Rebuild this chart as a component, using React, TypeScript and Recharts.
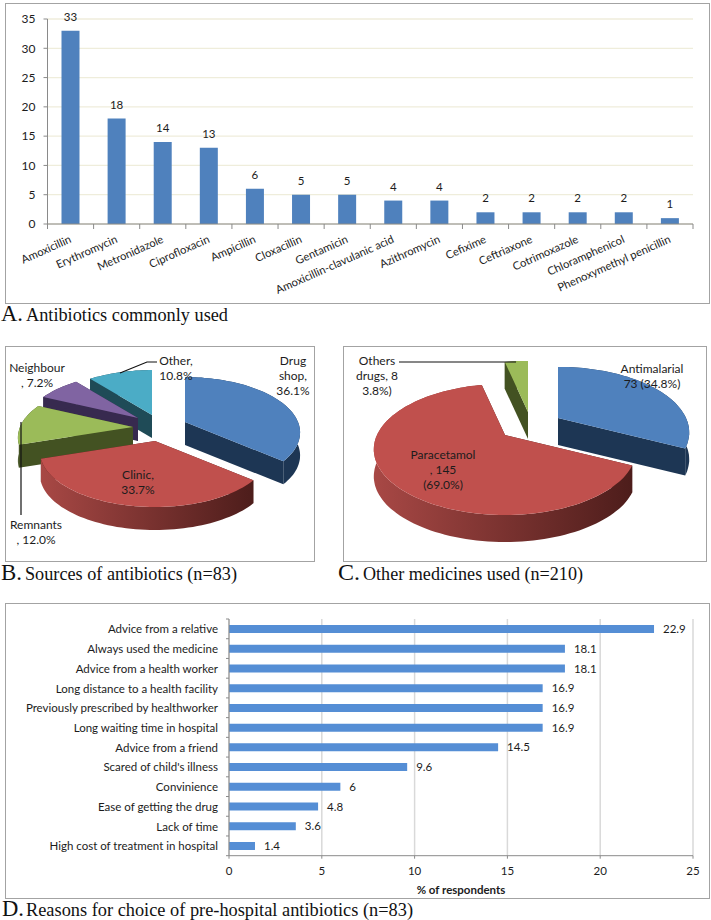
import React from 'react';
import { BarChart, Bar, XAxis, YAxis, CartesianGrid, LabelList, PieChart, Pie } from 'recharts';

// A. antibiotics
const drugNames = ['Amoxicillin', 'Erythromycin', 'Metronidazole', 'Ciprofloxacin', 'Ampicillin', 'Cloxacillin', 'Gentamicin', 'Amoxicillin-clavulanic acid', 'Azithromycin', 'Cefixime', 'Ceftriaxone', 'Cotrimoxazole', 'Chloramphenicol', 'Phenoxymethyl penicillin'];
const drugCounts = [33, 18, 14, 13, 6, 5, 5, 4, 4, 2, 2, 2, 2, 1];
const drugTicks = [0, 5, 10, 15, 20, 25, 30, 35];

// B. sources (listed anticlockwise from 12 o'clock, back slices first)
const sourceNames = ['Other', 'Neighbour', 'Remnants', 'Clinic', 'Drug shop'];
const sourceValues = [10.8, 7.2, 12.0, 33.7, 36.1];

// C. other medicines
const medicineNames = ['Others drugs', 'Paracetamol', 'Antimalarial'];
const medicineValues = [8, 145, 73];

// D. reasons
const reasonNames = ['Advice from a relative', 'Always used the medicine', 'Advice from a health worker', 'Long distance to a health facility', 'Previously prescribed by healthworker', 'Long waiting time in hospital', 'Advice from a friend', "Scared of child's illness", 'Convinience', 'Ease of getting the drug', 'Lack of time', 'High cost of treatment in hospital'];
const reasonPercents = [22.9, 18.1, 18.1, 16.9, 16.9, 16.9, 14.5, 9.6, 6, 4.8, 3.6, 1.4];
const reasonTicks = [0, 5, 10, 15, 20, 25];

const drugData = drugNames.map((name, i) => ({ name, count: drugCounts[i] }));
const sourceData = sourceNames.map((name, i) => ({ name, value: sourceValues[i] }));
const medicineData = medicineNames.map((name, i) => ({ name, value: medicineValues[i] }));
const reasonData = reasonNames.map((name, i) => ({ name, percent: reasonPercents[i] }));

const FONT = 'Lato, sans-serif';
const TEXT = '#1c1c1c';
const AXIS = '#8a8a8a';
const NO_MARGIN = { top: 0, right: 0, bottom: 0, left: 0 };

const sliceColors: Record<string, { top: string; wall: string; wallDark?: string }> = {
  Other: { top: '#4bacc6', wall: '#1f4b57' },
  Neighbour: { top: '#8064a2', wall: '#372a4f' },
  Remnants: { top: '#9bbb59', wall: '#435222' },
  Clinic: { top: '#c0504d', wall: '#a84845', wallDark: '#4d1d1b' },
  'Drug shop': { top: '#4f81bd', wall: '#1d3654' },
  'Others drugs': { top: '#9bbb59', wall: '#435222' },
  Paracetamol: { top: '#c0504d', wall: '#a84845', wallDark: '#4d1d1b' },
  Antimalarial: { top: '#4f81bd', wall: '#1d3654' },
};

// exploded slice offsets, px
const sliceShift: Record<string, [number, number]> = {
  Other: [2, -10],
  Neighbour: [-12, -7],
  Remnants: [-17, 2],
  Clinic: [5, 16],
  'Drug shop': [35, -3],
  'Others drugs': [-2, -8],
  Paracetamol: [-25, 15],
  Antimalarial: [28, -2],
};

// tilted pie: squash = vertical radius ratio, lean = perspective, depth = wall height
const makeSlice = (squash: number, lean: number, depth: number) => (props: any) => {
  const { cx, cy, outerRadius, startAngle, endAngle, name } = props;
  const c = sliceColors[name];
  const [ox, oy] = sliceShift[name];
  const project = (deg: number) => {
    const a = (deg * Math.PI) / 180;
    const X = Math.cos(a);
    const Y = -Math.sin(a);
    const s = 1 / (1 - lean * Y);
    return [cx + ox + outerRadius * X * s, cy + oy + outerRadius * squash * Y * s];
  };
  const arc: number[][] = [];
  const steps = Math.ceil(Math.abs(endAngle - startAngle) / 2);
  for (let i = 0; i <= steps; i++) arc.push(project(startAngle + ((endAngle - startAngle) * i) / steps));
  const apex = [cx + ox, cy + oy];
  const poly = (pts: number[][]) => pts.map((p) => `${p[0].toFixed(1)},${p[1].toFixed(1)}`).join(' ');
  const down = (p: number[]) => [p[0], p[1] + depth];
  const first = arc[0];
  const last = arc[arc.length - 1];
  const gradId = `wall-${name.replace(/\s/g, '')}`;
  return (
    <g>
      {c.wallDark && (
        <defs>
          <linearGradient id={gradId} x1="0" y1="0" x2="1" y2="0">
            <stop offset="0" stopColor={c.wall} />
            <stop offset="1" stopColor={c.wallDark} />
          </linearGradient>
        </defs>
      )}
      <polygon points={poly([apex, first, down(first), down(apex)])} fill={c.wallDark || c.wall} />
      <polygon points={poly([apex, last, down(last), down(apex)])} fill={c.wallDark || c.wall} />
      <polygon points={poly([...arc, ...arc.slice().reverse().map(down)])} fill={c.wallDark ? `url(#${gradId})` : c.wall} />
      <polygon points={poly([apex, ...arc])} fill={c.top} />
    </g>
  );
};

type Note = { lines: string[]; x: number; y: number; leader?: string };

const sourceNotes: Record<string, Note> = {
  Other: { lines: ['Other,', '10.8%'], x: 170, y: 14, leader: '151,16 141,16 114,27' },
  Neighbour: { lines: ['Neighbour', ', 7.2%'], x: 31, y: 21 },
  Remnants: { lines: ['Remnants', ', 12.0%'], x: 30, y: 178, leader: '15,76 15,169' },
  Clinic: { lines: ['Clinic,', '33.7%'], x: 132, y: 128 },
  'Drug shop': { lines: ['Drug', 'shop,', '36.1%'], x: 287, y: 14 },
};

const medicineNotes: Record<string, Note> = {
  'Others drugs': { lines: ['Others', 'drugs, 8', '3.8%)'], x: 33, y: 14, leader: '55,16 172,16' },
  Paracetamol: { lines: ['Paracetamol', ', 145', '(69.0%)'], x: 99, y: 108 },
  Antimalarial: { lines: ['Antimalarial', '73 (34.8%)'], x: 308, y: 22 },
};

const makeLabel = (notes: Record<string, Note>) => (props: any) => {
  const n = notes[props.name];
  return (
    <g>
      {n.leader && <polyline points={n.leader} fill="none" stroke="#111" strokeWidth={1.2} />}
      {n.lines.map((t, i) => (
        <text key={t} x={n.x} y={n.y + i * 15} textAnchor="middle" dominantBaseline="central" fontFamily={FONT} fontSize={12} fill={TEXT}>
          {t}
        </text>
      ))}
    </g>
  );
};

const DRUG_BAND = 645.5 / drugNames.length;
const REASON_BAND = 236.7 / reasonNames.length;

const DrugTick = ({ x, y, payload, index }: any) => (
  <g>
    <line x1={x - DRUG_BAND / 2} x2={x - DRUG_BAND / 2} y1={y} y2={y + 5} stroke={AXIS} />
    {index === drugNames.length - 1 && <line x1={x + DRUG_BAND / 2} x2={x + DRUG_BAND / 2} y1={y} y2={y + 5} stroke={AXIS} />}
    <text transform={`translate(${x + 1.5},${y + 18}) rotate(-24)`} textAnchor="end" fontFamily={FONT} fontSize={11.2} fill={TEXT}>
      {payload.value}
    </text>
  </g>
);

const ReasonTick = ({ x, y, payload, index }: any) => (
  <g>
    <line x1={x - 3} x2={x} y1={y - REASON_BAND / 2} y2={y - REASON_BAND / 2} stroke={AXIS} />
    {index === reasonNames.length - 1 && <line x1={x - 3} x2={x} y1={y + REASON_BAND / 2} y2={y + REASON_BAND / 2} stroke={AXIS} />}
    <text x={x - 11} y={y} textAnchor="end" dominantBaseline="central" fontFamily={FONT} fontSize={11.5} fill={TEXT}>
      {payload.value}
    </text>
  </g>
);

const Frame = ({ x, y, w, h }: { x: number; y: number; w: number; h: number }) => (
  <div style={{ position: 'absolute', left: x, top: y, width: w, height: h, boxSizing: 'border-box', border: '1.5px solid #a3a3a3' }} />
);

const Caption = ({ letter, text, x, y, letterWidth, textX, textWidth }: any) => (
  <>
    <text x={x} y={y} fontFamily="Liberation Serif" fontSize={24} fill="#111" textLength={letterWidth} lengthAdjust="spacingAndGlyphs">
      {letter}
    </text>
    <text x={textX} y={y} fontFamily="Liberation Serif" fontSize={19} fill="#111" textLength={textWidth} lengthAdjust="spacingAndGlyphs">
      {text}
    </text>
  </>
);

const App: React.FC = () => (
  <div style={{ position: 'absolute', left: 0, top: 0, width: 711, height: 920, background: '#fff' }}>
    <Frame x={5} y={3} w={705} h={301} />
    <Frame x={5} y={346} w={310} h={216} />
    <Frame x={343} y={346} w={364} h={216} />
    <Frame x={5} y={603} w={705} h={296} />

    <div style={{ position: 'absolute', left: 0, top: 0 }}>
      <BarChart width={711} height={305} data={drugData} margin={{ top: 19, right: 18, bottom: 0, left: 0 }}>
        <CartesianGrid vertical={false} stroke="#efeddb" strokeWidth={1.3} />
        <XAxis dataKey="name" height={81} interval={0} tick={<DrugTick />} tickLine={false} tickSize={0} tickMargin={0} stroke={AXIS} />
        <YAxis width={47.5} domain={[0, 35]} ticks={drugTicks} tickSize={4} tickMargin={8} stroke={AXIS} tick={{ fill: TEXT, fontSize: 12, fontFamily: FONT }} />
        <Bar dataKey="count" fill="#4f81bd" barSize={18} isAnimationActive={false}>
          <LabelList dataKey="count" position="top" offset={10} fill={TEXT} fontSize={11.5} fontFamily={FONT} />
        </Bar>
      </BarChart>
    </div>

    <div style={{ position: 'absolute', left: 6, top: 346 }}>
      <PieChart width={309} height={215} margin={NO_MARGIN}>
        <Pie data={sourceData} dataKey="value" nameKey="name" cx={144} cy={79} outerRadius={113} startAngle={90} endAngle={450} stroke="none" shape={makeSlice(0.473, 0.19, 23)} label={makeLabel(sourceNotes)} labelLine={false} isAnimationActive={false} />
      </PieChart>
    </div>

    <div style={{ position: 'absolute', left: 344, top: 346 }}>
      <PieChart width={363} height={215} margin={NO_MARGIN}>
        <Pie data={medicineData} dataKey="value" nameKey="name" cx={186} cy={74} outerRadius={128} startAngle={90} endAngle={450} stroke="none" shape={makeSlice(0.487, 0.22, 27)} label={makeLabel(medicineNotes)} labelLine={false} isAnimationActive={false} />
      </PieChart>
    </div>

    <div style={{ position: 'absolute', left: 0, top: 603 }}>
      <BarChart width={711} height={296} layout="vertical" data={reasonData} margin={{ top: 16, right: 18, bottom: 0, left: 0 }}>
        <CartesianGrid horizontal={false} stroke="#d9d9d9" strokeWidth={1.5} />
        <XAxis
          type="number"
          domain={[0, 25]}
          ticks={reasonTicks}
          height={43.3}
          tickSize={3}
          tickMargin={8}
          stroke={AXIS}
          tick={{ fill: TEXT, fontSize: 11.5, fontFamily: FONT }}
          label={{ value: '% of respondents', position: 'insideBottom', offset: 5, fill: TEXT, fontSize: 11.5, fontWeight: 700, fontFamily: FONT }}
        />
        <YAxis type="category" dataKey="name" width={229} interval={0} tick={<ReasonTick />} tickLine={false} tickSize={0} tickMargin={0} stroke={AXIS} />
        <Bar dataKey="percent" fill="#558ed5" barSize={8} isAnimationActive={false}>
          <LabelList dataKey="percent" position="right" offset={9} fill={TEXT} fontSize={11.5} fontFamily={FONT} />
        </Bar>
      </BarChart>
    </div>

    <svg width={711} height={920} style={{ position: 'absolute', left: 0, top: 0, pointerEvents: 'none' }}>
      <Caption letter="A." text="Antibiotics commonly used" x={1} y={321} letterWidth={22} textX={26} textWidth={202} />
      <Caption letter="B." text="Sources of antibiotics (n=83)" x={1} y={580} letterWidth={21} textX={25} textWidth={212} />
      <Caption letter="C." text="Other medicines used (n=210)" x={338} y={580} letterWidth={22} textX={363} textWidth={220} />
      <Caption letter="D." text="Reasons for choice of pre-hospital antibiotics (n=83)" x={2} y={916} letterWidth={22} textX={26} textWidth={387} />
    </svg>
  </div>
);

export default App;
